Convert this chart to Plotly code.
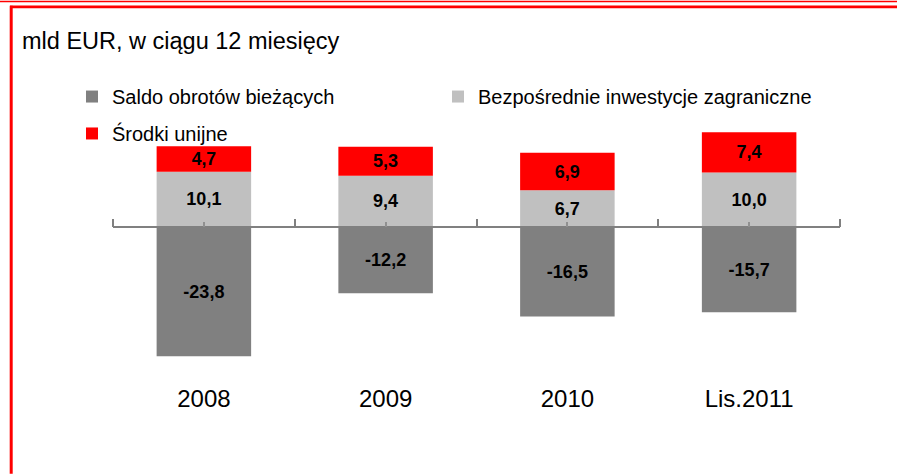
import plotly.graph_objects as go

categories = ["2008", "2009", "2010", "Lis.2011"]
saldo = [-23.8, -12.2, -16.5, -15.7]
bit = [10.1, 9.4, 6.7, 10.0]
srodki = [4.7, 5.3, 6.9, 7.4]

names = ["Saldo obrotów bieżących", "Bezpośrednie inwestycje zagraniczne", "Środki unijne"]
colors = ["#808080", "#C0C0C0", "#FF0000"]

W, H = 897, 474
L, R, T, B = 113, 57, 117.5, 84
YMIN, YMAX = -30, 20
pw, ph = W - L - R, H - T - B
XR = [-0.5, 3.5]
boundaries = [i - 0.5 for i in range(len(categories) + 1)]
centers = list(range(len(categories)))


def px_x(p):
    return (p - L) / pw


def px_y(p):
    return (H - B - p) / ph


fig = go.Figure()
for vals, name, col, leg in zip([saldo, bit, srodki], names, colors, ["legend", "legend2", "legend3"]):
    fig.add_trace(go.Bar(
        x=categories, y=vals, name=name, marker=dict(color=col, line=dict(width=0)),
        texttemplate="%{y:.1f}", textposition="inside", insidetextanchor="middle",
        textfont=dict(family="Liberation Sans, Arial", size=18, color="black", weight="bold"),
        legend=leg,
    ))

# invisible helper trace so the tick axis (x2) gets drawn
fig.add_trace(go.Scatter(x=boundaries, y=[0] * len(boundaries), xaxis="x2", mode="none",
                         showlegend=False, hoverinfo="skip"))

zero_pos = (0 - YMIN) / (YMAX - YMIN)
legfont = dict(family="Liberation Sans, Arial", size=20, color="black")
fig.update_layout(
    width=W, height=H, margin=dict(l=L, r=R, t=T, b=B),
    paper_bgcolor="white", plot_bgcolor="white",
    barmode="relative", bargap=0.48, separators=",.",
    showlegend=True,
    legend=dict(x=px_x(72), y=px_y(96), xanchor="left", yanchor="middle", font=legfont, bgcolor="rgba(0,0,0,0)"),
    legend2=dict(x=px_x(438), y=px_y(96), xanchor="left", yanchor="middle", font=legfont, bgcolor="rgba(0,0,0,0)"),
    legend3=dict(x=px_x(72), y=px_y(133), xanchor="left", yanchor="middle", font=legfont, bgcolor="rgba(0,0,0,0)"),
    xaxis=dict(
        type="category", anchor="free", position=zero_pos, range=XR,
        showline=True, linecolor="#808080", linewidth=2,
        ticks="", showgrid=False, zeroline=False, layer="above traces",
        ticklabelstandoff=150,
        tickfont=dict(family="Liberation Sans, Arial", size=24, color="black"),
    ),
    xaxis2=dict(
        type="linear", overlaying="x", anchor="free", position=zero_pos, side="top", range=XR,
        showline=False, showgrid=False, zeroline=False, showticklabels=False,
        tickmode="array", tickvals=boundaries,
        ticks="outside", ticklen=8, tickwidth=2, tickcolor="#808080", layer="above traces",
        minor=dict(tickmode="array", tickvals=centers, ticks="outside", ticklen=5, tickwidth=1.5,
                   tickcolor="#909090", showgrid=False),
    ),
    yaxis=dict(range=[YMIN, YMAX], visible=False, showgrid=False, zeroline=False),
    annotations=[dict(
        text="mld EUR, w ciągu 12 miesięcy", xref="paper", yref="paper",
        x=px_x(20), y=px_y(40), xanchor="left", yanchor="middle", showarrow=False,
        font=dict(family="Liberation Sans, Arial", size=23.5, color="black"),
    )],
    shapes=[
        dict(type="line", xref="paper", yref="paper", x0=px_x(0), x1=px_x(W), y0=px_y(0.8), y1=px_y(0.8),
             line=dict(color="#FF0000", width=1.6)),
        dict(type="line", xref="paper", yref="paper", x0=px_x(10), x1=px_x(W), y0=px_y(6.2), y1=px_y(6.2),
             line=dict(color="#FF0000", width=2.6)),
        dict(type="line", xref="paper", yref="paper", x0=px_x(11.2), x1=px_x(11.2), y0=px_y(5), y1=px_y(H),
             line=dict(color="#FF0000", width=3)),
    ],
)

fig.write_html("out.html", config={"displayModeBar": False},
               post_script="document.body.style.margin='0';document.body.style.overflow='hidden';")
